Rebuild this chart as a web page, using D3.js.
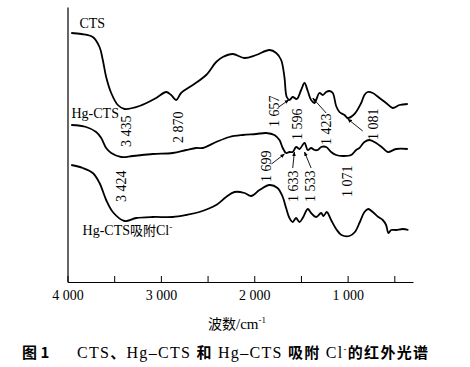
<!DOCTYPE html>
<html><head><meta charset="utf-8">
<script src="https://cdn.jsdelivr.net/npm/d3@7"></script>
<style>
html,body{margin:0;padding:0;background:#fff;}
svg{display:block;}
.serif{font-family:"Liberation Serif","Times New Roman",serif;}
.cjk{font-family:"Noto Sans CJK SC",sans-serif;}
</style></head>
<body>
<svg id="chart" width="470" height="367"></svg>
<script>
// ---------- data (wavenumber cm^-1, relative transmittance, arbitrary units) ----------
const ctsWave = [3960,3850,3729,3657,3622,3586,3532,3461,3390,3229,3050,2943,2890,2836,2783,2658,2515,2408,2337,2230,2105,1980,1837,1765,1712,1677,1652,1623,1588,1545,1498,1462,1427,1391,1355,1337,1302,1266,1230,1195,1159,1123,1088,1034,999,927,855,820,785,731,659,588,517,445,356];
const ctsT    = [249,248,245,235,222,205,189,177,173,176,184,190,187,182,189,197,207,220,225,228,224,227,232,229,222,205,185,182,185,183,192,199,191,182,179,182,189,187,190,191,189,176,170,167,164,168,179,187,190,189,184,179,174,177,178];

const hgWave = [3960,3800,3693,3639,3586,3532,3425,3301,3087,2873,2729,2622,2551,2408,2265,2123,1980,1873,1784,1730,1695,1659,1623,1588,1551,1516,1462,1427,1391,1355,1320,1284,1230,1177,1123,1052,962,909,874,820,767,695,624,570,481,356];
const hgT    = [157,155,150,144,134,129,125,126,128,129,132,134,134,140,145,147,148,149,147,142,134,129,130,130,135,133,139,132,134,132,132,135,135,130,127,126,127,132,134,140,142,139,134,130,133,133];

const clWave = [3960,3836,3729,3657,3586,3515,3390,3264,3087,2873,2729,2587,2408,2301,2212,2105,2033,1944,1837,1751,1695,1659,1623,1588,1553,1516,1481,1427,1391,1337,1284,1259,1224,1177,1123,1066,981,922,869,820,780,731,671,624,588,563,534,481,410,349];
const clT    = [117,114,109,99,82,70,61,64,65,65,67,70,77,85,90,89,86,92,97,94,85,74,64,60,64,60,64,73,69,65,69,66,70,62,53,47,46,50,60,70,73,70,65,62,57,49,52,52,53,52];

const seriesNames = ["CTS", "Hg-CTS", "Hg-CTS吸附Cl"];
const nameWave = [3872, 3957, 3839];
const nameT    = [254, 164, 47];

const xTickValues = [4000,3500,3000,2500,2000,1500,1000,500];
const xTickLabels = {4000:"4 000",3000:"3 000",2000:"2 000",1000:"1 000"};

// peak annotation labels: text, wavenumber, value at label bottom
const peakLabels = ["3 435","2 870","3 424","1 657","1 596","1 423","1 081","1 699","1 633","1 533","1 071"];
const peakWave   = [3368,2812,3427,1784,1537,1227,729,1869,1580,1398,1007];
const peakT      = [135,139,80,155,142,137,142,100,80,80,85];

// arrows: from (w1,t1) to (w2,t2)
const arrowFromW = [1738,1230,838,1816,1588,1391];
const arrowFromT = [175,169,151,118,114,114];
const arrowToW   = [1631,1374,999,1677,1570,1462];
const arrowToT   = [182,184,163,128,130,130];

// ---------- drawing ----------
const svg = d3.select("#chart");
const x = d3.scaleLinear().domain([4000,300]).range([67.5,413]);
const y = d3.scaleLinear().domain([0,275]).range([282,7]);

// axes
svg.append("g").attr("transform","translate(0,282)")
  .call(d3.axisBottom(x).tickValues(xTickValues).tickSizeInner(-6).tickSizeOuter(0).tickPadding(8)
    .tickFormat(d => xTickLabels[d] || ""))
  .call(g => {
    g.select(".domain").attr("stroke","#000").attr("stroke-width",1.2);
    g.selectAll(".tick line").attr("stroke","#000").attr("stroke-width",1);
    g.selectAll("text").attr("class","serif").attr("font-size",14).attr("fill","#000");
  });
svg.append("g").attr("transform",`translate(${x(4000)},0)`)
  .call(d3.axisLeft(y).tickValues([]).tickSizeOuter(0))
  .call(g => g.select(".domain").attr("stroke","#000").attr("stroke-width",1.2));

// curves
const line = d3.line().x(d => x(d[0])).y(d => y(d[1])).curve(d3.curveCatmullRom.alpha(0.5));
[[ctsWave,ctsT],[hgWave,hgT],[clWave,clT]].forEach(([w,t]) => {
  svg.append("path").datum(w.map((v,i)=>[v,t[i]]))
    .attr("d", line).attr("fill","none").attr("stroke","#000")
    .attr("stroke-width",1.8).attr("stroke-linejoin","round");
});

// series names
seriesNames.forEach((n,i) => {
  const t = svg.append("text").attr("x", x(nameWave[i])).attr("y", y(nameT[i]))
    .attr("font-size",14).attr("fill","#000");
  if (i < 2) { t.attr("class","serif").text(n); }
  else {
    t.append("tspan").attr("class","serif").text("Hg-CTS");
    t.append("tspan").attr("class","cjk").attr("font-size",13).text("吸附");
    t.append("tspan").attr("class","serif").text("Cl");
    t.append("tspan").attr("class","serif").attr("font-size",9).attr("dy",-5).text("-");
  }
});

// peak labels (rotated)
peakLabels.forEach((s,i) => {
  svg.append("text").attr("class","serif")
    .attr("transform",`translate(${x(peakWave[i])},${y(peakT[i])}) rotate(-90)`)
    .attr("dy","0.35em").attr("font-size",14).attr("fill","#000").text(s);
});

// arrows
const defs = svg.append("defs");
defs.append("marker").attr("id","ah").attr("viewBox","0 0 10 10").attr("refX",9).attr("refY",5)
  .attr("markerWidth",5).attr("markerHeight",5).attr("orient","auto")
  .append("path").attr("d","M0,1 L10,5 L0,9 Z").attr("fill","#000");
arrowFromW.forEach((w,i) => {
  svg.append("line").attr("x1",x(w)).attr("y1",y(arrowFromT[i]))
    .attr("x2",x(arrowToW[i])).attr("y2",y(arrowToT[i]))
    .attr("stroke","#000").attr("stroke-width",0.9).attr("marker-end","url(#ah)");
});

// axis title
const at = svg.append("text").attr("x",237).attr("y",329).attr("text-anchor","middle")
  .attr("font-size",15).attr("fill","#000");
at.append("tspan").attr("class","cjk").attr("font-size",14).text("波数");
at.append("tspan").attr("class","serif").text("/cm");
at.append("tspan").attr("class","serif").attr("font-size",9).attr("dy",-6).text("-1");

// caption
svg.append("text").attr("class","cjk").attr("x",22).attr("y",358).attr("font-size",15)
  .attr("font-weight","bold").attr("fill","#000").text("图 1");
const cap = svg.append("text").attr("x",77).attr("y",358).attr("font-size",15)
  .attr("fill","#000").attr("textLength",351).attr("lengthAdjust","spacing");
cap.append("tspan").attr("class","serif").attr("font-size",16).text("CTS");
cap.append("tspan").attr("class","cjk").attr("font-weight","bold").text("、");
cap.append("tspan").attr("class","serif").attr("font-size",16).text("Hg–CTS ");
cap.append("tspan").attr("class","cjk").attr("font-weight","bold").text("和");
cap.append("tspan").attr("class","serif").attr("font-size",16).text(" Hg–CTS ");
cap.append("tspan").attr("class","cjk").attr("font-weight","bold").text("吸附");
cap.append("tspan").attr("class","serif").attr("font-size",16).text(" Cl");
cap.append("tspan").attr("class","serif").attr("font-size",9).attr("dy",-6).text("-");
cap.append("tspan").attr("class","cjk").attr("font-weight","bold").attr("dy",6).text("的红外光谱");
</script>
</body></html>
